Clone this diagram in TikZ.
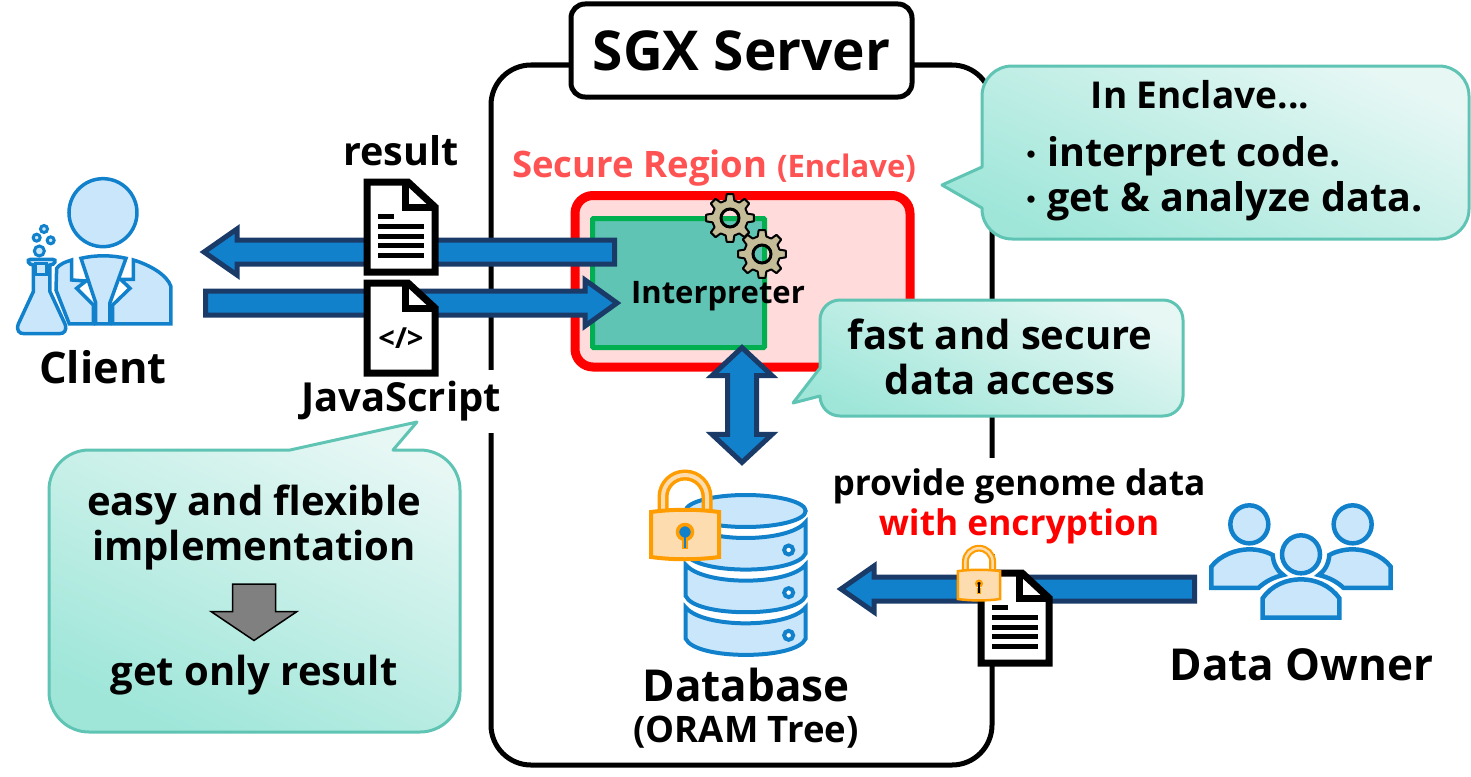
\documentclass[tikz,border=0pt]{standalone}
\usepackage{fontspec}
\setmainfont{Open Sans}
\newfontfamily\cjk{Noto Sans CJK JP}
\usetikzlibrary{calc}
\definecolor{arrowblue}{HTML}{1281CC}
\definecolor{arrowdark}{HTML}{1A3A68}
\definecolor{iconfill}{HTML}{C9E6FB}
\definecolor{calloutline}{HTML}{5FC4B3}
\definecolor{calloutdeep}{HTML}{9FE6D9}
\definecolor{calloutlight}{HTML}{E6F7F4}
\definecolor{lockline}{HTML}{FF9D00}
\definecolor{lockfill}{HTML}{FDDCAF}
\definecolor{gearfill}{HTML}{C4BD97}
\definecolor{boxgreen}{HTML}{00B050}
\tikzset{
  x=1pt, y=-1pt,
  label40/.style={font=\bfseries\fontsize{40}{45}\selectfont},
  flowline/.style={draw=arrowdark, fill=arrowblue, line width=5pt, miter limit=10},
  blockarrow/.style n args={3}{to path={
    ($(\tikztostart)!#1pt!90:(\tikztotarget)$)
    -- ($($(\tikztotarget)!#3pt!(\tikztostart)$)!#1pt!90:(\tikztotarget)$)
    -- ($($(\tikztotarget)!#3pt!(\tikztostart)$)!#2pt!90:(\tikztotarget)$)
    -- (\tikztotarget)
    -- ($($(\tikztotarget)!#3pt!(\tikztostart)$)!#2pt!-90:(\tikztotarget)$)
    -- ($($(\tikztotarget)!#3pt!(\tikztostart)$)!#1pt!-90:(\tikztotarget)$)
    -- ($(\tikztostart)!#1pt!-90:(\tikztotarget)$) -- cycle}},
  twowayarrow/.style n args={3}{to path={
    (\tikztostart)
    -- ($($(\tikztostart)!#3pt!(\tikztotarget)$)!#2pt!90:(\tikztotarget)$)
    -- ($($(\tikztostart)!#3pt!(\tikztotarget)$)!#1pt!90:(\tikztotarget)$)
    -- ($($(\tikztotarget)!#3pt!(\tikztostart)$)!#1pt!90:(\tikztotarget)$)
    -- ($($(\tikztotarget)!#3pt!(\tikztostart)$)!#2pt!90:(\tikztotarget)$)
    -- (\tikztotarget)
    -- ($($(\tikztotarget)!#3pt!(\tikztostart)$)!#2pt!-90:(\tikztotarget)$)
    -- ($($(\tikztotarget)!#3pt!(\tikztostart)$)!#1pt!-90:(\tikztotarget)$)
    -- ($($(\tikztostart)!#3pt!(\tikztotarget)$)!#1pt!-90:(\tikztotarget)$)
    -- ($($(\tikztostart)!#3pt!(\tikztotarget)$)!#2pt!-90:(\tikztotarget)$) -- cycle}},
  calloutshape/.style={draw=calloutline, line width=3pt, line join=round,
    top color=calloutlight, bottom color=calloutdeep, shading angle=-25},
  iconline/.style={draw=arrowblue, fill=iconfill, line width=3.5pt},
  pics/docsheet/.style={code={
    \draw[line width=7pt, fill=white, miter limit=10] (0,0) -- (41,0) -- (68,25) -- (68,90) -- (0,90) -- cycle;
    \draw[line width=7pt] (38,0) -- (38,25) -- (68,25);
  }},
  pics/doclines/.style={code={
    \foreach \y in {44,54,63,73} \draw[line width=5pt] (11,\y) -- (57,\y);
    \draw[line width=5pt] (11,34) -- (27,34);
  }},
  pics/lockicon/.style 2 args={code={
    \draw[lockline, line width=11pt*#1] (-22,-1) -- (-22,-18) .. controls (-22,-30.2) and (-12.2,-40) .. (0,-40)
      .. controls (12.2,-40) and (22,-30.2) .. (22,-18) -- (22,-1);
    \draw[lockfill, line width=4pt*#1] (-22,-1) -- (-22,-18) .. controls (-22,-30.2) and (-12.2,-40) .. (0,-40)
      .. controls (12.2,-40) and (22,-30.2) .. (22,-18) -- (22,-1);
    \draw[lockline, fill=lockfill, line width=4pt*#1] (-34,-3) .. controls (-12,-6) and (12,-6) .. (34,-3)
      -- (34,42) .. controls (12,45) and (-12,45) .. (-34,42) -- cycle;
    \draw[lockline, fill=#2, line width=3.5pt*#1] (0,17) circle[radius=7.5*#1 pt];
    \draw[lockline, line width=6pt*#1] (0,24) -- (0,34);
    \draw[#2, line width=2pt*#1] (0,17) -- (0,33);
  }},
  pics/gearicon/.style={code={
    \draw[fill=gearfill, line width=2pt, line join=round, even odd rule]
      (-14:18) foreach \a in {0,45,...,315} { -- ({\a-14}:18) -- ({\a-8}:24) -- ({\a+8}:24) -- ({\a+14}:18) } -- cycle
      (0,0) circle[radius=9pt];
    \draw[line width=3pt] (0,0) circle[radius=9pt];
  }},
}
\begin{document}
\begin{tikzpicture}
  \useasboundingbox (0,0) rectangle (1471,776);
  % server
  \draw[line width=5pt, rounded corners=40pt] (491,65) rectangle (992,765);
  \node (sgxtitle) [draw, fill=white, line width=5pt, rounded corners=14pt, minimum width=341pt, minimum height=93pt,
    font=\bfseries\fontsize{55}{60}\selectfont] at (741.5,50.5) {SGX Server};
  \node (jslabel) [label40, fill=white, minimum height=63pt, inner xsep=2pt] at (401,401.5) {JavaScript};
  \node (providelabel) [fill=white, align=center, minimum height=96pt, inner xsep=2pt,
    font=\bfseries\fontsize{35.3}{40}\selectfont] at (1019,506) {provide genome data\\\textcolor{red}{with encryption}};
  % enclave
  \node (securelabel) [font=\bfseries\fontsize{36.5}{40}\selectfont, text=red!68!white, inner sep=0pt, anchor=west] at (512,168)
    {Secure Region \fontsize{31}{30}\selectfont(Enclave)};
  \draw[draw=red, fill=red!14!white, line width=9pt, rounded corners=18pt] (575,195.5) rectangle (910,367);
  \draw[draw=boxgreen, fill=calloutline, line width=5pt, rounded corners=1pt] (592.5,218.5) rectangle (764.5,347.5);
  \pic at (730,218) {gearicon};
  \pic at (762,254) {gearicon};
  \node (interpreter) [font=\bfseries\fontsize{31}{35}\selectfont] at (718,296) {Interpreter};
  % client
  \begin{scope}[shift={(0,120)}, x=0.3333pt, y=-0.3333pt]
    \draw[iconline] (309,278) circle[radius=34pt];
    \draw[iconline] (215,420) .. controls (195,426) and (180,432) .. (170,445) -- (168,510) -- (208,612) -- (280,612) -- (280,555)
      -- (230,505) -- (258,483) -- (215,480) -- cycle;
    \draw[iconline] (400,420) -- (400,478) -- (362,478) -- (390,505) -- (338,555) -- (338,612) -- (513,612) -- (513,500)
      .. controls (502,465) and (450,435) .. (400,420) -- cycle;
    \draw[iconline] (243,415) .. controls (285,405) and (335,405) .. (378,415) -- (330,548) -- (330,612) -- (287,612) -- (287,548) -- cycle;
    \draw[iconline] (100,435) .. controls (85,435) and (78,418) .. (92,418) -- (158,418) .. controls (172,418) and (165,435) .. (150,435)
      -- (150,515) -- (195,612) .. controls (202,632) and (192,641) .. (178,641) -- (72,641) .. controls (58,641) and (48,632) .. (55,612) -- (100,515) -- cycle;
    \draw[iconline, line width=3pt, fill=none] (108,432) rectangle (140,465);
    \draw[iconline, line width=3pt] (118,393) circle[radius=5pt];
    \draw[iconline, line width=3pt] (110,353) circle[radius=3.5pt];
    \draw[iconline, line width=3pt] (132,327) circle[radius=3.5pt];
    \draw[iconline, line width=3pt] (152,361) circle[radius=3.5pt];
  \end{scope}
  \node (client) [font=\bfseries\fontsize{43.5}{50}\selectfont] at (103,367) {Client};
  % arrows
  \coordinate (resultfrom) at (614.5,252);
  \coordinate (resultto) at (204,252);
  \coordinate (jsfrom) at (205.5,303);
  \coordinate (jsto) at (617,303);
  \coordinate (dataup) at (742,347.6);
  \coordinate (datadown) at (742,462.4);
  \coordinate (ownerfrom) at (1194.5,589);
  \coordinate (ownerto) at (841,589);
  \draw[flowline] (resultfrom) to[blockarrow={12}{23}{33}] (resultto);
  \draw[flowline] (jsfrom) to[blockarrow={12}{23}{32}] (jsto);
  \draw[flowline] (dataup) to[twowayarrow={14.5}{30}{28}] (datadown);
  \draw[flowline] (ownerfrom) to[blockarrow={12}{23}{33}] (ownerto);
  % documents
  \node (resultlabel) [font=\bfseries\fontsize{39.5}{45}\selectfont] at (401,151) {result};
  \pic at (367,182) {docsheet};
  \pic at (367,182) {doclines};
  \pic at (367,283) {docsheet};
  \node (codelabel) [font=\bfseries\fontsize{29}{35}\selectfont] at (401,338) {</>};
  \pic at (981,573) {docsheet};
  \pic at (981,573) {doclines};
  % callouts
  \draw[calloutshape] (982,167) [rounded corners=30pt] -- (982,66) -- (1469,66) -- (1469,239) -- (982,239) [sharp corners] -- (982,208) -- (942,185) -- cycle;
  \node (enclavehead) [font=\bfseries\fontsize{37}{45}\selectfont] at (1200,95) {In Enclave...};
  \node (enclaveone) [font=\bfseries\fontsize{39.5}{45}\selectfont, anchor=west, inner sep=0pt] at (1047,156) {interpret code.};
  \node (enclavetwo) [font=\bfseries\fontsize{39.5}{45}\selectfont, anchor=west, inner sep=0pt] at (1047,201) {get \& analyze data.};
  \node (dotone) [label40, anchor=east, inner sep=0pt] at (1045,158) {{\cjk\fontsize{26}{26}\selectfont ・}};
  \node (dottwo) [label40, anchor=east, inner sep=0pt] at (1045,203) {{\cjk\fontsize{26}{26}\selectfont ・}};
  \draw[calloutshape] (820,368) [rounded corners=20pt] -- (820,300) -- (1183,300) -- (1183,416) -- (820,416) [sharp corners] -- (820,396) -- (793,403) -- cycle;
  \node (fastlabel) [label40, align=center] at (1000,357) {fast and secure\\data access};
  \draw[calloutshape] (393,450) [rounded corners=40pt] -- (460,450) -- (460,732) -- (49,732) -- (49,450) [sharp corners] -- (290,450) -- (417,422) -- cycle;
  \node (easylabel) [label40, align=center] at (254,527) {easy and flexible\\implementation};
  \coordinate (hintfrom) at (254,584);
  \coordinate (hintto) at (254,640.5);
  \draw[draw=black, fill=black!50!white, line width=1.5pt] (hintfrom) to[blockarrow={21.5}{43}{29}] (hintto);
  \node (onlylabel) [label40] at (254,675) {get only result};
  % database
  \begin{scope}[shift={(630,460)}, x=0.3333pt, y=-0.3333pt]
    \foreach \dy in {0,128,256} {
      \draw[iconline, line width=4pt] (167,186+\dy) .. controls (220,250+\dy) and (475,250+\dy) .. (527,186+\dy) -- (527,280+\dy)
        .. controls (500,345+\dy) and (195,345+\dy) .. (167,280+\dy) -- cycle;
      \draw[draw=arrowblue, fill=white, line width=4pt] (476,270+\dy) circle[radius=4.5pt];
    }
    \draw[iconline, line width=4pt] (347,153) ellipse[x radius=180, y radius=48];
  \end{scope}
  \pic at (685,515) {lockicon={1}{arrowblue}};
  \pic[scale=0.62] at (979,573) {lockicon={0.62}{black}};
  \node (dblabel) [font=\bfseries\fontsize{44}{50}\selectfont] at (746,685) {Database};
  \node (oramlabel) [font=\bfseries\fontsize{36.5}{38}\selectfont] at (746,732) {(ORAM Tree)};
  % data owner
  \begin{scope}[shift={(1190,490)}, x=0.3333pt, y=-0.3333pt]
    \draw[iconline, line width=4.5pt] (64,294) -- (64,230) .. controls (90,195) and (140,178) .. (178,178) .. controls (205,178) and (230,185) .. (248,195)
      .. controls (250,225) and (265,245) .. (280,255) .. controls (250,262) and (225,275) .. (205,294) -- cycle;
    \draw[iconline, line width=4.5pt] (602,294) -- (602,230) .. controls (576,195) and (526,178) .. (488,178) .. controls (461,178) and (436,185) .. (418,195)
      .. controls (416,225) and (401,245) .. (386,255) .. controls (416,262) and (441,275) .. (461,294) -- cycle;
    \draw[iconline, line width=4.5pt] (218,383) -- (448,383) -- (448,325) .. controls (420,285) and (375,268) .. (333,268) .. controls (290,268) and (245,285) .. (218,325) -- cycle;
    \draw[iconline, line width=4.5pt] (178,103) circle[radius=19pt];
    \draw[iconline, line width=4.5pt] (488,103) circle[radius=19pt];
    \draw[iconline, line width=4.5pt] (333,193) circle[radius=19pt];
  \end{scope}
  \node (owner) [font=\bfseries\fontsize{44}{50}\selectfont] at (1301.5,665) {Data Owner};
\end{tikzpicture}
\end{document}
